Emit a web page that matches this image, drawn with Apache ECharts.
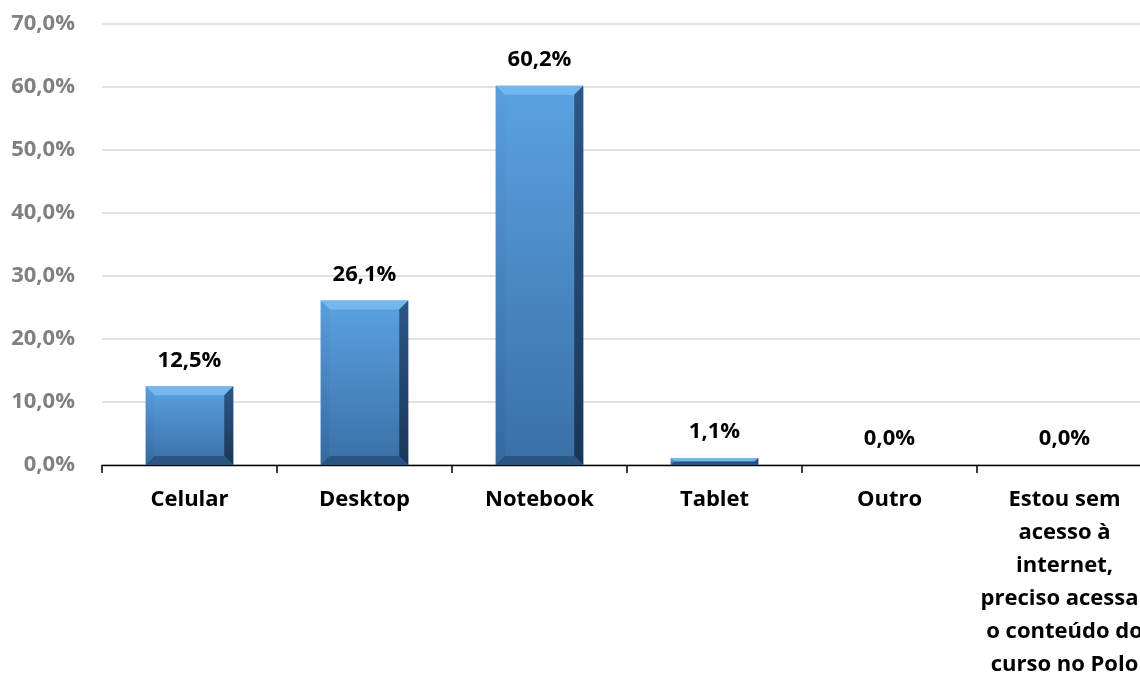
<!DOCTYPE html>
<html>
<head>
<meta charset="utf-8">
<script src="https://cdn.jsdelivr.net/npm/echarts@6/dist/echarts.min.js"></script>
<style>
html,body{margin:0;padding:0;background:#fff;}
#chart{width:1140px;height:673px;}
</style>
</head>
<body>
<div id="chart"></div>
<script>
const categories = ['Celular', 'Desktop', 'Notebook', 'Tablet', 'Outro',
  'Estou sem\nacesso à\ninternet,\npreciso acessar\no conteúdo do\ncurso no Polo'];
const values = [12.5, 26.1, 60.2, 1.1, 0.0, 0.0];
const yTicks = [0, 10, 20, 30, 40, 50, 60, 70];

const FONT = '"Open Sans"';
const fmt = v => v.toFixed(1).replace('.', ',') + '%';

const chart = echarts.init(document.getElementById('chart'), null, {renderer: 'canvas'});

function renderBar(params, api) {
  const idx = api.value(0);
  const val = api.value(1);
  const top = api.coord([idx, val]);
  const base = api.coord([idx, 0]);
  const w = api.size([1, 0])[0] * 0.5;
  const x0 = top[0] - w / 2, x1 = top[0] + w / 2;
  const y0 = top[1], y1 = base[1];
  const h = y1 - y0;
  const children = [];
  if (h > 0.5) {
    const b = Math.min(9, h / 2, w / 2);
    children.push({
      type: 'rect', shape: {x: x0, y: y0, width: w, height: h},
      style: {fill: new echarts.graphic.LinearGradient(0, 0, 0, 1, [
        {offset: 0, color: '#5aa2e2'}, {offset: 1, color: '#3a6fa6'}])}
    });
    children.push({type: 'polygon', shape: {points: [[x0, y0], [x1, y0], [x1 - b, y0 + b], [x0 + b, y0 + b]]},
      style: {fill: '#74b6ee'}});
    children.push({type: 'polygon', shape: {points: [[x0, y0], [x0 + b, y0 + b], [x0 + b, y1 - b], [x0, y1]]},
      style: {fill: new echarts.graphic.LinearGradient(0, 0, 0, 1, [
        {offset: 0, color: '#5b9ddd'}, {offset: 1, color: '#3569a0'}])}});
    children.push({type: 'polygon', shape: {points: [[x1, y0], [x1, y1], [x1 - b, y1 - b], [x1 - b, y0 + b]]},
      style: {fill: new echarts.graphic.LinearGradient(0, 0, 0, 1, [
        {offset: 0, color: '#2b5786'}, {offset: 1, color: '#1a3657'}])}});
    children.push({type: 'polygon', shape: {points: [[x0, y1], [x0 + b, y1 - b], [x1 - b, y1 - b], [x1, y1]]},
      style: {fill: '#2a5482'}});
  }
  children.push({
    type: 'text',
    style: {
      text: fmt(val), x: top[0], y: y0 - 26,
      align: 'center', verticalAlign: 'middle',
      fill: '#000', font: 'bold 22px ' + FONT
    }
  });
  return {type: 'group', children: children};
}

chart.setOption({
  animation: false,
  backgroundColor: '#ffffff',
  grid: {left: 102, top: 24, width: 1050, height: 441, containLabel: false, outerBoundsMode: 'none'},
  xAxis: {
    type: 'category',
    data: categories,
    boundaryGap: true,
    axisLine: {lineStyle: {color: '#000', width: 1.3}},
    axisTick: {show: true, length: 8, lineStyle: {color: '#000', width: 1.5}},
    axisLabel: {
      interval: 0, margin: 18, color: '#000', fontWeight: 'bold',
      fontSize: 22, fontFamily: FONT, lineHeight: 33, align: 'center'
    }
  },
  yAxis: {
    type: 'value',
    min: yTicks[0], max: yTicks[yTicks.length - 1], interval: 10,
    axisLine: {show: false},
    axisTick: {show: false},
    splitLine: {lineStyle: {color: '#d9d9d9', width: 1.5}},
    axisLabel: {
      margin: 27, color: '#808080', fontWeight: 'bold', fontSize: 22,
      fontFamily: FONT, formatter: v => fmt(v)
    }
  },
  series: [{
    type: 'custom',
    renderItem: renderBar,
    data: values.map((v, i) => [i, v]),
    encode: {x: 0, y: 1},
    z: 3
  }]
});
</script>
</body>
</html>
